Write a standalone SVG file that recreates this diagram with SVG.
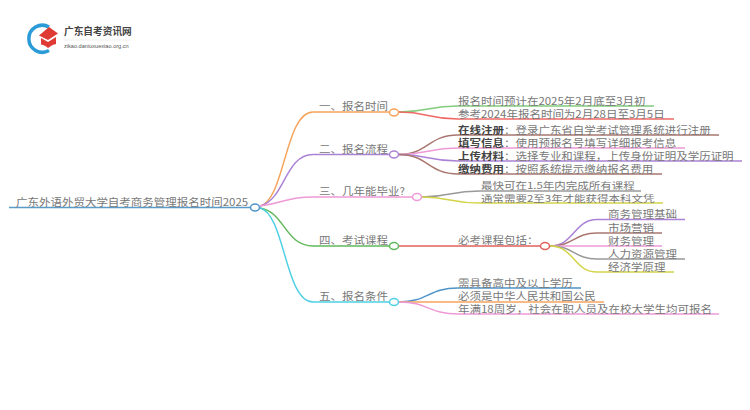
<svg xmlns="http://www.w3.org/2000/svg" width="750" height="410" viewBox="0 0 750 410">
<style>
text{font-family:"Noto Sans CJK SC","Liberation Sans",sans-serif;font-size:11.5px;fill:#777}
.c path{fill:none;stroke-width:1.5}
.n{fill:#fff;stroke-width:1.5}
.b{font-weight:700;fill:#444}
</style>
<rect width="750" height="410" fill="#fff"/>
<g id="logo">
<path d="M49 27A13.500 13.500 0 1 0 49 50.500" fill="none" stroke="#2b9bd8" stroke-width="3.500"/>
<path d="M49 27L58 33.500L48 40L39 35.500Z" fill="#e03a35"/>
<path d="M41 38L48 42L56 37V44C52 45 50 46.500 48 48C46 46 44 45 41 44.500Z" fill="#e03a35"/>
<text x="64" y="35" style="font-size:9.700px;font-weight:700;fill:#444">广东自考资讯网</text>
<path d="M63 40H131" stroke="#ddd" stroke-width="0.500"/>
<text x="64" y="48" style="font-family:'Liberation Sans',sans-serif;font-size:5.600px;fill:#555">zikao.daniuxuexiao.org.cn</text>
</g>
<g class="c" id="connectors">
<path d="M9 207.500H250" stroke="#5b9bc8"/>
<path d="M260 206C285 200 285 112 313 112H389" stroke="#f7a35c"/>
<path d="M260 206C285 200 285 154.500 313 154.500H389" stroke="#ab82d6"/>
<path d="M260 206C285 203 285 197 313 197H412" stroke="#ee9ad6"/>
<path d="M260 208C285 212 285 246 313 246H389" stroke="#62b85c"/>
<path d="M260 208C285 214 285 302 313 302H389" stroke="#4fd0e4"/>
<path d="M399 112C428 112 428 106 458 106H654" stroke="#83cc7c"/>
<path d="M399 112C428 112 428 119 458 119H674" stroke="#ee6a66"/>
<path d="M399 154.500C428 154.500 428 135 458 135H719" stroke="#a9776f"/>
<path d="M399 154.500C428 154.500 428 148 458 148H685" stroke="#ee9ad6"/>
<path d="M399 154.500C428 154.500 428 161 458 161H742" stroke="#ab82d6"/>
<path d="M399 154.500C428 154.500 428 174 458 174H662" stroke="#a9776f"/>
<path d="M422 197C450 197 450 191 480 191H641" stroke="#999"/>
<path d="M422 197C450 197 450 203 480 203H663" stroke="#d4d44a"/>
<path d="M399 246H540" stroke="#e0605c"/>
<path d="M550 246C574 246 574 219.500 597 219.500H685" stroke="#ab82d6"/>
<path d="M550 246C574 246 574 233 597 233H662" stroke="#a9776f"/>
<path d="M550 246H662" stroke="#ee9ad6"/>
<path d="M550 246C574 246 574 259 597 259H685" stroke="#999"/>
<path d="M550 246C574 246 574 272 597 272H674" stroke="#d4d44a"/>
<path d="M399 302C428 302 428 288 458 288H581" stroke="#4f94c8"/>
<path d="M399 302H604" stroke="#f7a35c"/>
<path d="M399 302C428 302 428 314 458 314H719" stroke="#ee9ad6"/>
</g>
<g id="root"><text transform="translate(16 205.500) scale(1 .85)">广东外语外贸大学自考商务管理报名时间2025</text><ellipse class="n" cx="255" cy="207.500" rx="4.500" ry="3.500" stroke="#4f94c8"/></g>
<g id="n1"><text transform="translate(319 110) scale(1 .85)">一、报名时间</text><ellipse class="n" cx="394" cy="112.500" rx="4.500" ry="3.500" stroke="#f7a35c"/></g>
<g id="n2"><text transform="translate(319 152.500) scale(1 .85)">二、报名流程</text><ellipse class="n" cx="394" cy="154.500" rx="4.500" ry="3.500" stroke="#ab82d6"/></g>
<g id="n3"><text transform="translate(319 195) scale(1 .85)">三、几年能毕业?</text><ellipse class="n" cx="417" cy="197" rx="4.500" ry="3.500" stroke="#ee9ad6"/></g>
<g id="n4"><text transform="translate(319 244) scale(1 .85)">四、考试课程</text><ellipse class="n" cx="394" cy="246" rx="4.500" ry="3.500" stroke="#62b85c"/></g>
<g id="n5"><text transform="translate(319 300) scale(1 .85)">五、报名条件</text><ellipse class="n" cx="394" cy="302" rx="4.500" ry="3.500" stroke="#4fd0e4"/></g>
<g id="n11"><text transform="translate(458 104.500) scale(1 .85)">报名时间预计在2025年2月底至3月初</text></g>
<g id="n12"><text transform="translate(458 117.500) scale(1 .85)">参考2024年报名时间为2月28日至3月5日</text></g>
<g id="n21"><text transform="translate(458 133.500) scale(1 .85)"><tspan class="b">在线注册</tspan>：登录广东省自学考试管理系统进行注册</text></g>
<g id="n22"><text transform="translate(458 146.500) scale(1 .85)"><tspan class="b">填写信息</tspan>：使用预报名号填写详细报考信息</text></g>
<g id="n23"><text transform="translate(458 159.500) scale(1 .85)"><tspan class="b">上传材料</tspan>：选择专业和课程，上传身份证明及学历证明</text></g>
<g id="n24"><text transform="translate(458 172.500) scale(1 .85)"><tspan class="b">缴纳费用</tspan>：按照系统提示缴纳报名费用</text></g>
<g id="n31"><text transform="translate(481 189) scale(1 .78)">最快可在1.5年内完成所有课程</text></g>
<g id="n32"><text transform="translate(481 201.500) scale(1 .78)">通常需要2至3年才能获得本科文凭</text></g>
<g id="n41"><text transform="translate(458 244) scale(1 .85)">必考课程包括：</text><ellipse class="n" cx="545" cy="246" rx="4.500" ry="3.500" stroke="#e0605c"/></g>
<g id="n411"><text transform="translate(608 218) scale(1 .85)">商务管理基础</text></g>
<g id="n412"><text transform="translate(608 231.500) scale(1 .85)">市场营销</text></g>
<g id="n413"><text transform="translate(608 244.500) scale(1 .85)">财务管理</text></g>
<g id="n414"><text transform="translate(608 257.500) scale(1 .85)">人力资源管理</text></g>
<g id="n415"><text transform="translate(608 270.500) scale(1 .85)">经济学原理</text></g>
<g id="n51"><text transform="translate(458 286.500) scale(1 .85)">需具备高中及以上学历</text></g>
<g id="n52"><text transform="translate(458 299.500) scale(1 .85)">必须是中华人民共和国公民</text></g>
<g id="n53"><text transform="translate(458 312.500) scale(1 .85)">年满18周岁，社会在职人员及在校大学生均可报名</text></g>
</svg>
